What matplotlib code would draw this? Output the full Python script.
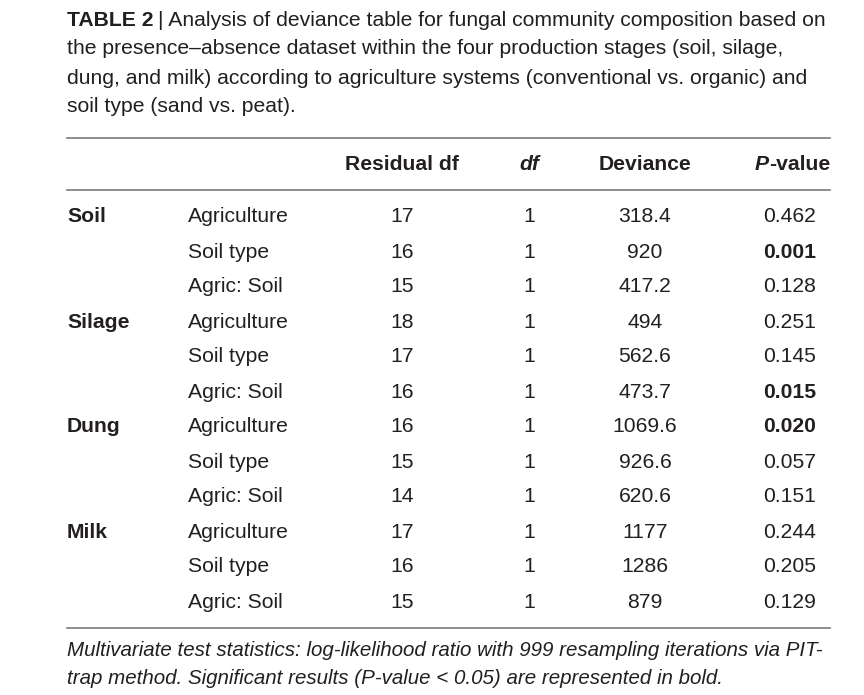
import matplotlib.pyplot as plt

# table contents
stages = ["Soil", "", "", "Silage", "", "", "Dung", "", "", "Milk", "", ""]
factors = ["Agriculture", "Soil type", "Agric: Soil"] * 4
resid_df = [17, 16, 15, 18, 17, 16, 16, 15, 14, 17, 16, 15]
df_vals = [1] * 12
deviance = ["318.4", "920", "417.2", "494", "562.6", "473.7",
            "1069.6", "926.6", "620.6", "1177", "1286", "879"]
pvalues = ["0.462", "0.001", "0.128", "0.251", "0.145", "0.015",
           "0.020", "0.057", "0.151", "0.244", "0.205", "0.129"]

title_lines = [
    "the presence\u2013absence dataset within the four production stages (soil, silage,",
    "dung, and milk) according to agriculture systems (conventional vs. organic) and",
    "soil type (sand vs. peat).",
]
footer_lines = [
    "Multivariate test statistics: log-likelihood ratio with 999 resampling iterations via PIT-",
    "trap method. Significant results (P-value < 0.05) are represented in bold.",
]

plt.rcParams['font.family'] = ['Liberation Sans', 'DejaVu Sans']
txt = "#231f20"
fs = 15.2

fig = plt.figure(figsize=(8.64, 6.95), dpi=100)
ax = fig.add_axes([0, 0, 1, 1])
ax.set_xlim(0, 864)
ax.set_ylim(695, 0)
ax.axis('off')
fig.canvas.draw()
renderer = fig.canvas.get_renderer()


def width_of(t):
    bb = t.get_window_extent(renderer=renderer)
    return bb.width


# title
t0 = ax.text(67, 20, "TABLE 2", fontsize=fs, fontweight='bold', color=txt, va='center')
x = 67 + width_of(t0) + 5
ax.text(x, 20, "| Analysis of deviance table for fungal community composition based on",
        fontsize=fs, color=txt, va='center')
for i, line in enumerate(title_lines):
    ax.text(67, 49 + 29 * i, line, fontsize=fs, color=txt, va='center')

# rules
for y in [138, 190, 628]:
    ax.plot([67, 830], [y, y], color="#7a7a7a", lw=1.2)

# header
hy = 164
ax.text(402, hy, "Residual df", fontsize=fs, fontweight='bold', color=txt, ha='center', va='center')
ax.text(529, hy, "df", fontsize=fs, fontweight='bold', style='italic', color=txt, ha='center', va='center')
ax.text(645, hy, "Deviance", fontsize=fs, fontweight='bold', color=txt, ha='center', va='center')
tv = ax.text(830, hy, "-value", fontsize=fs, fontweight='bold', color=txt, ha='right', va='center')
ax.text(830 - width_of(tv), hy, "P", fontsize=fs, fontweight='bold', style='italic',
        color=txt, ha='right', va='center')

# rows
for i in range(len(factors)):
    y = 217 + 35 * i
    if stages[i]:
        ax.text(67, y, stages[i], fontsize=fs, fontweight='bold', color=txt, va='center')
    ax.text(188, y, factors[i], fontsize=fs, color=txt, va='center')
    ax.text(402, y, str(resid_df[i]), fontsize=fs, color=txt, ha='center', va='center')
    ax.text(529, y, str(df_vals[i]), fontsize=fs, color=txt, ha='center', va='center')
    ax.text(645, y, deviance[i], fontsize=fs, color=txt, ha='center', va='center')
    bold = float(pvalues[i]) < 0.05
    ax.text(790, y, pvalues[i], fontsize=fs, color=txt, ha='center', va='center',
            fontweight='bold' if bold else 'normal')

# footer
for i, line in enumerate(footer_lines):
    ax.text(67, 651 + 28 * i, line, fontsize=14.8, style='italic', color=txt, va='center')

fig.savefig("out.png", dpi=100)
